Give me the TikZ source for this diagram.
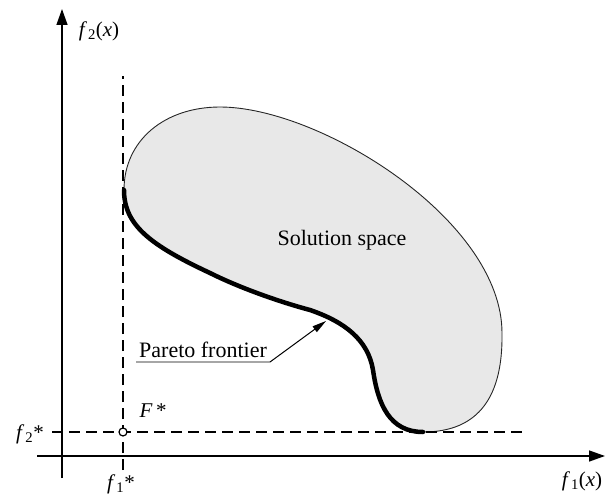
\documentclass[tikz,border=0pt]{standalone}
\usepackage{fontspec}
\setmainfont{Liberation Serif}
\usetikzlibrary{arrows.meta}
\begin{document}
\begin{tikzpicture}[x=1pt,y=-1pt,
  axis/.style={line width=1.4pt,-{Triangle[length=16pt,width=11pt]}},
  guide/.style={line width=2.4pt,dash pattern=on 11pt off 6pt},
  region/.style={draw=black!85,line width=0.9pt,fill=gray!18},
  front/.style={line width=4.5pt,line cap=round},
  lbl/.style={font=\fontsize{22}{26}\selectfont,inner sep=0pt},
  mlbl/.style={font=\fontsize{21}{25}\selectfont,inner sep=0pt}]
\useasboundingbox (0,0) rectangle (608,497);
% axes
\coordinate (xs) at (37,456);
\coordinate (xe) at (605,456);
\coordinate (ys) at (62,478);
\coordinate (ye) at (62,9);
\draw[axis] (xs) -- (xe);
\draw[axis] (ys) -- (ye);
% solution space
\coordinate (P0) at (124,190);
\coordinate (T) at (220,107);
\coordinate (R) at (502,333);
\coordinate (B) at (423,432);
\coordinate (M1) at (373,370);
\coordinate (M2) at (310,310);
\coordinate (M3) at (210,273);
\path[region] (P0) .. controls (124,140) and (165,107) .. (T)
  .. controls (320,107) and (502,220) .. (R)
  .. controls (503,395) and (480,432) .. (B)
  .. controls (390,432) and (378,405) .. (M1)
  .. controls (368,340) and (345,322) .. (M2)
  .. controls (280,302) and (240,288) .. (M3)
  .. controls (150,245) and (124,225) .. (P0) -- cycle;
% guides
\coordinate (vt) at (123,76);
\coordinate (vb) at (123,470);
\coordinate (hl) at (52,432);
\coordinate (hr) at (524,432);
\draw[guide] (vb) -- (vt);
\draw[guide] (hl) -- (hr);
% pareto frontier
\draw[front] (B) .. controls (390,432) and (378,405) .. (M1)
  .. controls (368,340) and (345,322) .. (M2)
  .. controls (280,302) and (240,288) .. (M3)
  .. controls (150,245) and (124,225) .. (P0);
% ideal point
\node[circle,draw,fill=white,line width=1.2pt,minimum size=8pt,inner sep=0pt] (F) at (123,432) {};
% labels
\node[lbl] (ss) at (342,240) {Solution space};
\node[lbl,anchor=base west] (pf) at (139,357) {Pareto frontier};
\coordinate (tip) at (326,321);
\coordinate (ul0) at (136,362);
\coordinate (ul) at (270,362);
\draw[gray!70,line width=2pt] (ul0) -- (ul);
\draw[line width=1pt,-{Triangle[length=14pt,width=7pt]}] (ul) -- (tip);
\node[mlbl] (f2x) at (99,31) {\textit{f}\kern1pt\textsubscript{2}(\textit{x})};
\node[mlbl] (f1x) at (582,481) {\textit{f}\kern1pt\textsubscript{1}(\textit{x})};
\node[mlbl] (Fs) at (153,411) {\textit{F}\,*};
\node[mlbl] (f2s) at (30,434) {\textit{f}\kern1pt\textsubscript{2}*};
\node[mlbl] (f1s) at (121,484) {\textit{f}\kern1pt\textsubscript{1}*};
\end{tikzpicture}
\end{document}
